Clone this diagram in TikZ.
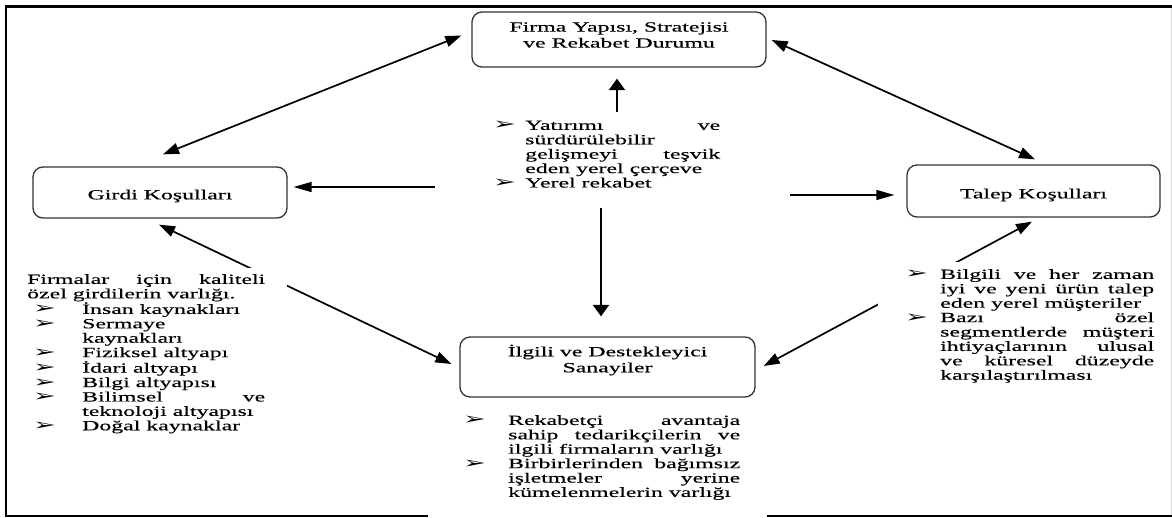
\documentclass[tikz,border=0pt]{standalone}
\usepackage{fontspec}
\setmainfont{Liberation Serif}[FakeStretch=1.7,FakeBold=0.35]
\newfontfamily\dejavu{DejaVu Sans Bold}[FakeStretch=1.7]
\usetikzlibrary{arrows.meta}
\newcommand{\bul}{{\dejavu\fontsize{16}{16}\selectfont ➢}}
\newcommand{\jline}[2]{\makebox[#1][s]{#2}}
\newcommand{\lline}[2]{\makebox[#1][l]{#2}}
\begin{document}
\begin{tikzpicture}[x=1pt,y=-1pt,
  box/.style={draw=black!80, line width=1.3pt, rounded corners=10pt, fill=white, inner sep=0pt},
  lbl/.style={align=center, font=\fontsize{14}{16}\selectfont, inner sep=0pt, text=black},
  txt/.style={align=left, font=\fontsize{14}{14.4}\selectfont, anchor=north west, text=black},
  ah/.style={-{Triangle[length=18pt,width=10pt]}, line width=1.4pt},
  av/.style={-{Triangle[length=11.5pt,width=16pt]}, line width=2.2pt},
  ad/.style={{Triangle[length=16pt,width=11pt]}-{Triangle[length=16pt,width=11pt]}, line width=1.7pt}]
\useasboundingbox (0,0) rectangle (1172,517);

% boxes
\node[box, minimum width=294pt, minimum height=55pt,
  label={[lbl,yshift=4.5pt]center:{Firma Yapısı, Stratejisi\\ve Rekabet Durumu}}] (firma) at (619,39.5) {};
\node[box, minimum width=254pt, minimum height=51pt,
  label={[lbl,yshift=-3.5pt]center:{Girdi Koşulları}}] (girdi) at (160,192.5) {};
\node[box, minimum width=253pt, minimum height=52pt,
  label={[lbl,yshift=-4pt]center:{Talep Koşulları}}] (talep) at (1033.5,191) {};
\node[box, minimum width=295pt, minimum height=60pt,
  label={[lbl,yshift=7pt]center:{İlgili ve Destekleyici\\Sanayiler}}] (ilgili) at (607.5,367) {};

% centre text
\node[txt, inner sep=0pt] (ctr) at (493,120.5) {%
\makebox[32pt][l]{\bul}\jline{195pt}{Yatırımı ve}\\
\makebox[32pt]{}\lline{195pt}{sürdürülebilir}\\
\makebox[32pt]{}\jline{195pt}{gelişmeyi teşvik}\\
\makebox[32pt]{}\lline{195pt}{eden yerel çerçeve}\\
\makebox[32pt][l]{\bul}\lline{195pt}{Yerel rekabet}};

% free ends of the central arrows
\coordinate (tl) at (435,187);
\coordinate (tr) at (790,195);
\coordinate (tu) at (617,112);
\coordinate (td) at (601,208);

\draw[ah] (tl) -- ([shift={(6,-5.5)}]girdi.east);
\draw[ah] (tr) -- ([shift={(-12,4)}]talep.west);
\draw[av] (tu) -- ([shift={(-2,11)}]firma.south);
\draw[av] (td) -- ([shift={(-6.5,-20)}]ilgili.north);

% diagonal double arrows
\draw[ad] ([shift={(-10,-4)}]firma.west) -- ([shift={(3,-12)}]girdi.north);
\draw[ad] ([shift={(5,0.5)}]firma.east) -- ([shift={(1.5,-5)}]talep.north);
\draw[ad] ([shift={(-1,6)}]girdi.south) -- ([shift={(-8,-3)}]ilgili.west);
\draw[ad] ([shift={(-1.5,4)}]talep.south) -- ([shift={(8,-1)}]ilgili.east);

% left text
\node[txt, fill=white, inner xsep=22pt, inner ysep=6pt] (left) at (5,268) {%
\jline{238pt}{Firmalar için kaliteli}\\
\lline{238pt}{özel girdilerin varlığı.}\\
\makebox[6pt]{}\makebox[49pt][l]{\bul}\lline{183pt}{İnsan kaynakları}\\
\makebox[6pt]{}\makebox[49pt][l]{\bul}\lline{183pt}{Sermaye}\\
\makebox[55pt]{}\lline{183pt}{kaynakları}\\
\makebox[6pt]{}\makebox[49pt][l]{\bul}\lline{183pt}{Fiziksel altyapı}\\
\makebox[6pt]{}\makebox[49pt][l]{\bul}\lline{183pt}{İdari altyapı}\\
\makebox[6pt]{}\makebox[49pt][l]{\bul}\lline{183pt}{Bilgi altyapısı}\\
\makebox[6pt]{}\makebox[49pt][l]{\bul}\jline{183pt}{Bilimsel ve}\\
\makebox[55pt]{}\lline{183pt}{teknoloji altyapısı}\\
\makebox[6pt]{}\makebox[49pt][l]{\bul}\lline{183pt}{Doğal kaynaklar}};

% right text
\node[txt, fill=white, inner xsep=27pt, inner ysep=7pt] (right) at (878,262) {%
\makebox[35pt][l]{\bul}\jline{214pt}{Bilgili ve her zaman}\\
\makebox[35pt]{}\jline{214pt}{iyi ve yeni ürün talep}\\
\makebox[35pt]{}\lline{214pt}{eden yerel müşteriler}\\
\makebox[35pt][l]{\bul}\jline{214pt}{Bazı özel}\\
\makebox[35pt]{}\jline{214pt}{segmentlerde müşteri}\\
\makebox[35pt]{}\jline{214pt}{ihtiyaçlarının ulusal}\\
\makebox[35pt]{}\jline{214pt}{ve küresel düzeyde}\\
\makebox[35pt]{}\lline{214pt}{karşılaştırılması}};

% bottom text
\node[txt, inner sep=0pt] (bottom) at (463,415) {%
\makebox[45pt][l]{\bul}\jline{232pt}{Rekabetçi avantaja}\\
\makebox[45pt]{}\jline{232pt}{sahip tedarikçilerin ve}\\
\makebox[45pt]{}\lline{232pt}{ilgili firmaların varlığı}\\
\makebox[45pt][l]{\bul}\jline{232pt}{Birbirlerinden bağımsız}\\
\makebox[45pt]{}\jline{232pt}{işletmeler yerine}\\
\makebox[45pt]{}\lline{232pt}{kümelenmelerin varlığı}};

% frame
\draw[line width=3pt] (4.5,6.5) -- (1172,6.5);
\draw[line width=2pt] (6,5) -- (6,517);
\draw[line width=2pt] (5,516) -- (428,516);
\draw[line width=2pt] (767,516) -- (1172,516);
\draw[black!15, line width=1pt] (1171,8) -- (1171,515);
\end{tikzpicture}
\end{document}
